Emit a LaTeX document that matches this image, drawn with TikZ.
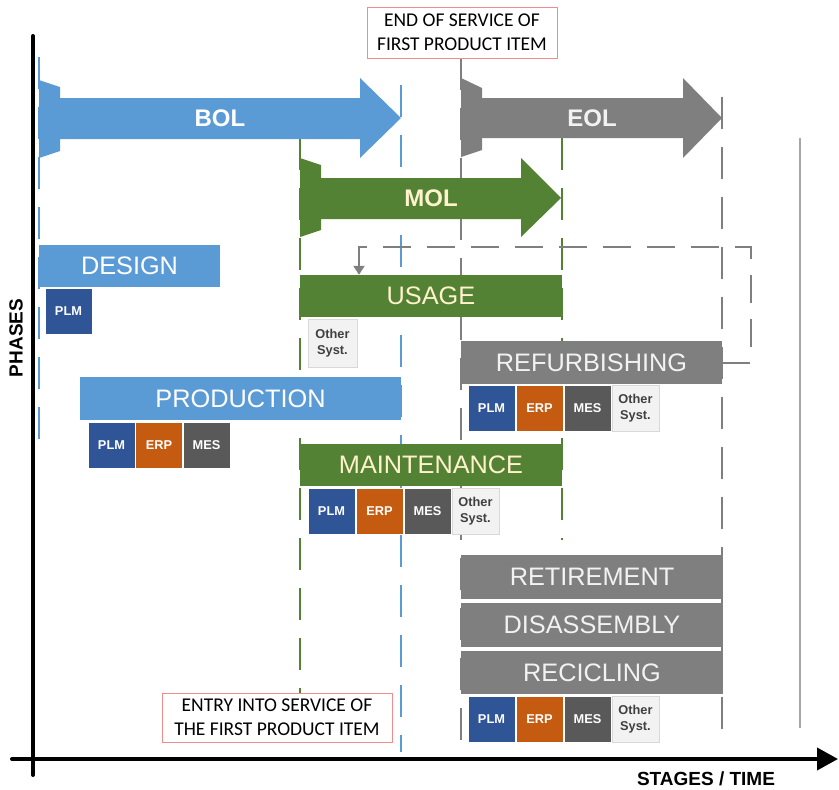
\documentclass[tikz,border=0pt]{standalone}
\usepackage{fontspec}
\setmainfont{Liberation Sans}
\newfontfamily\calfont{Carlito}
\usetikzlibrary{arrows.meta}
\definecolor{cblue}{HTML}{5B9BD5}
\definecolor{cgreen}{HTML}{548235}
\definecolor{cgray}{HTML}{7F7F7F}
\definecolor{cplm}{HTML}{2F5597}
\definecolor{cerp}{HTML}{C55A11}
\definecolor{cmes}{HTML}{595959}
\definecolor{cother}{HTML}{F2F2F2}
\definecolor{cotherb}{HTML}{D9D9D9}
\definecolor{cdark}{HTML}{404040}
\definecolor{ccream}{HTML}{FFF2CC}
\definecolor{cred}{HTML}{F08C8C}
\definecolor{cline}{HTML}{A6A6A6}
\begin{document}
\begin{tikzpicture}[x=1pt,y=-1pt,
  bar/.style={inner sep=0pt, minimum height=42pt, font=\fontsize{25.3}{29}\selectfont},
  bluebar/.style={bar, fill=cblue, text=white},
  greenbar/.style={bar, fill=cgreen, text=ccream},
  graybar/.style={bar, fill=cgray, text=cother},
  sysbox/.style={minimum width=47pt, minimum height=46pt, inner sep=0pt, align=center,
    font=\bfseries\fontsize{12.8}{15.5}\selectfont, text=white, draw=white, line width=0.6pt},
  plm/.style={sysbox, fill=cplm},
  erp/.style={sysbox, fill=cerp},
  mes/.style={sysbox, fill=cmes},
  other/.style={sysbox, fill=cother, draw=cotherb, text=cdark},
  vdash/.style={line width=2pt, dash pattern=on 32pt off 18pt},
  event/.style={draw=cred, fill=white, line width=1pt, inner sep=0pt, align=center,
    font=\calfont\fontsize{19.5}{24}\selectfont, text=black},
  axis/.style={line width=4pt, black},
  looppath/.style={cgray, line width=2pt, dash pattern=on 28pt off 16pt},
  bigarrow/.style={inner sep=0pt, font=\bfseries\fontsize{24}{28}\selectfont}
]
\useasboundingbox (0,0) rectangle (839,790);

% ---------- vertical guide lines ----------
\draw[vdash, cblue] (39,57) -- (39,447);
\draw[vdash, cblue] (401,85) -- (401,752);
\draw[vdash, cgreen] (300,138) -- (300,693);
\draw[vdash, cgreen] (562,138) -- (562,540);
\draw[vdash, cgray] (461,58) -- (461,755);
\draw[vdash, cgray] (722,97) -- (722,742);
\draw[cline, line width=1.5pt] (800,138) -- (800,728);

% ---------- axes ----------
\coordinate (ytop) at (33,36);
\coordinate (ybot) at (33,775);
\coordinate (xleft) at (12,759);
\coordinate (xright) at (838,759);
\draw[axis, line cap=round] (ytop) -- (ybot);
\draw[axis, line cap=round, -{Triangle[length=21pt,width=22pt]}] (xleft) -- (xright);
\node[rotate=90, font=\bfseries\fontsize{19}{22}\selectfont] (phases) at (16,338) {PHASES};
\node[font=\bfseries\fontsize{19}{22}\selectfont] (stages) at (706,779) {STAGES / TIME};

% ---------- stage arrows ----------
\fill[cblue] (39,80) -- (60,87) -- (60,98) -- (360,98) -- (360,78) -- (401,118)
  -- (360,158) -- (360,139) -- (60,139) -- (60,151) -- (39,158) -- cycle;
\node[bigarrow, text=white] (bol) at (220,118) {BOL};

\fill[cgray] (461,78) -- (482,88) -- (482,98) -- (683,98) -- (683,78) -- (722,118)
  -- (683,158) -- (683,138) -- (482,138) -- (482,150) -- (461,157) -- cycle;
\node[bigarrow, text=cother] (eol) at (592,118) {EOL};

\fill[cgreen] (300,158) -- (321,165) -- (321,178) -- (521,178) -- (521,158) -- (561,198)
  -- (521,237) -- (521,219) -- (321,219) -- (321,230) -- (300,237) -- cycle;
\node[bigarrow, text=ccream] (mol) at (431,198) {MOL};

% ---------- event boxes ----------
\node[event, minimum width=190pt, minimum height=51pt] (endsvc) at (462,32.5)
  {END OF SERVICE OF\\FIRST PRODUCT ITEM};
\node[event, minimum width=230pt, minimum height=49pt] (entrysvc) at (277,717.5)
  {ENTRY INTO SERVICE OF\\THE FIRST PRODUCT ITEM};

% ---------- phase bars ----------
\node[bluebar, minimum width=181pt] (design) at (129.5,266) {DESIGN};
\node[plm] (design-plm) at (68.5,311) {PLM};

\node[bluebar, minimum width=321pt, minimum height=43pt] (production) at (240.5,398.5) {PRODUCTION};
\node[plm] (prod-plm) at (111.5,445) {PLM};
\node[erp] (prod-erp) at (159,445) {ERP};
\node[mes] (prod-mes) at (206.5,445) {MES};

\node[greenbar, minimum width=262pt] (usage) at (431,296) {USAGE};
\node[other, minimum width=49pt, minimum height=48pt] (usage-oth) at (332.5,343) {Other\\Syst.};

\node[graybar, minimum width=261pt, minimum height=43pt] (refurb) at (591.5,362.5) {REFURBISHING};
\node[plm] (ref-plm) at (491.5,408) {PLM};
\node[erp] (ref-erp) at (539.5,408) {ERP};
\node[mes] (ref-mes) at (587.5,408) {MES};
\node[other] (ref-oth) at (635.5,408) {Other\\Syst.};

\node[greenbar, minimum width=262pt] (maint) at (431,465) {MAINTENANCE};
\node[plm] (mnt-plm) at (331.5,511) {PLM};
\node[erp] (mnt-erp) at (379.5,511) {ERP};
\node[mes] (mnt-mes) at (427.5,511) {MES};
\node[other] (mnt-oth) at (475.5,511) {Other\\Syst.};

\node[graybar, minimum width=262pt, minimum height=44pt] (retire) at (592,577) {RETIREMENT};
\node[graybar, minimum width=262pt, minimum height=44pt] (disas) at (592,625) {DISASSEMBLY};
\node[graybar, minimum width=262pt, minimum height=43pt] (recic) at (592,672.5) {RECICLING};
\node[plm] (rec-plm) at (491.5,719) {PLM};
\node[erp] (rec-erp) at (539.5,719) {ERP};
\node[mes] (rec-mes) at (587.5,719) {MES};
\node[other] (rec-oth) at (635.5,719) {Other\\Syst.};

% ---------- feedback loop ----------
\coordinate (loopcorner) at (751,247);
\coordinate (loopx) at (359,0);
\draw[looppath, -{Triangle[length=9pt,width=11pt]}]
  (refurb.east) -| (loopcorner) -| (usage.north -| loopx);
\end{tikzpicture}
\end{document}
